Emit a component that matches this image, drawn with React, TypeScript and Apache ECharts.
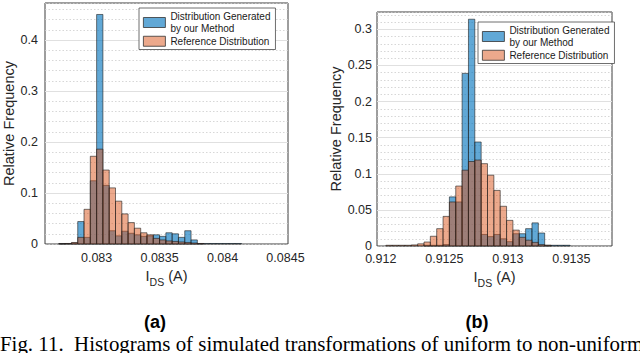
import React, { useEffect, useRef } from 'react';
import * as echarts from 'echarts';

// ---------- data ----------
const seriesNames = ['Distribution Generated by our Method', 'Reference Distribution'];
const legendTexts = ['Distribution Generated\nby our Method', 'Reference Distribution'];

// panel (a)
const binWidthA = 0.00005;
const firstEdgeA = 0.0827;
const generatedA = [0.001, 0.001, 0.002, 0.044, 0.013, 0.124, 0.45, 0.115, 0.026, 0.016, 0.025, 0.021, 0.018, 0.015, 0.016, 0.018, 0.015, 0.022, 0.020, 0.013, 0.026, 0.008, 0.001, 0.001, 0.001, 0.001, 0.001, 0.001, 0.001];
const referenceA = [0.0005, 0.001, 0.003, 0.013, 0.068, 0.172, 0.186, 0.145, 0.110, 0.084, 0.059, 0.042, 0.031, 0.022, 0.018, 0.011, 0.008, 0.006, 0.005, 0.004, 0.003, 0.002, 0.001, 0, 0, 0, 0, 0, 0];
const xTicksA = ['0.083', '0.0835', '0.084', '0.0845'];
const yTicksA = ['0', '0.1', '0.2', '0.3', '0.4'];

// panel (b)
const binWidthB = 0.00005;
const firstEdgeB = 0.91204;
const generatedB = [0, 0, 0, 0, 0, 0, 0.001, 0.001, 0.001, 0.002, 0.068, 0.061, 0.239, 0.314, 0.144, 0.016, 0.013, 0.016, 0.010, 0.006, 0.017, 0.017, 0.024, 0.032, 0.018, 0.001, 0.001, 0.001, 0.001];
const referenceB = [0.001, 0.001, 0.001, 0.001, 0.0015, 0.003, 0.0055, 0.0135, 0.024, 0.041, 0.061, 0.083, 0.105, 0.117, 0.119, 0.114, 0.098, 0.077, 0.055, 0.0355, 0.022, 0.012, 0.008, 0.005, 0.002, 0.001, 0, 0, 0];
const xTicksB = ['0.912', '0.9125', '0.913', '0.9135'];
const yTicksB = ['0', '0.05', '0.1', '0.15', '0.2', '0.25', '0.3'];

const yAxisTitle = 'Relative Frequency';
const panelLabels = ['(a)', '(b)'];
const caption = 'Fig. 11.  Histograms of simulated transformations of uniform to non-uniform';

// ---------- styling ----------
const fontFamily = "'Liberation Sans', Arial, Helvetica, sans-serif";
const textColor = '#262626';
const fills = ['rgba(0,114,189,0.62)', 'rgba(217,83,25,0.5)'];
const edgeColor = '#1f1f1f';

const panels = [
  {
    grid: { left: 45, top: 3, width: 243, height: 241 },
    xMin: 0.08259, xMax: 0.08452, yMax: 0.4725, yMinor: 0.02, xMinorStep: 0.0001,
    xTicks: xTicksA, yTicks: yTicksA, first: firstEdgeA, width: binWidthA,
    gen: generatedA, ref: referenceA,
    yLabelMargin: 7, xLabelMargin: 7, yNameGap: 24, xNameGap: 15,
    legend: { left: 139, top: 8 },
    label: { x: 155, y: 322 },
  },
  {
    grid: { left: 377, top: 12, width: 235, height: 234 },
    xMin: 0.91197, xMax: 0.91382, yMax: 0.324, yMinor: 0.01, xMinorStep: 0.0001,
    xTicks: xTicksB, yTicks: yTicksB, first: firstEdgeB, width: binWidthB,
    gen: generatedB, ref: referenceB,
    yLabelMargin: 5, xLabelMargin: 6, yNameGap: 32, xNameGap: 14,
    legend: { left: 478, top: 22 },
    label: { x: 477, y: 322 },
  },
];

function toBins(first: number, width: number, values: number[]) {
  return values.map((v, i) => [
    Number((first + i * width).toFixed(7)),
    Number((first + (i + 1) * width).toFixed(7)),
    v,
  ]);
}

function findLabel(labels: string[], v: number) {
  for (const l of labels) if (Math.abs(Number(l) - v) < 1e-9) return l;
  return '';
}

function buildOption() {
  const grid: any[] = [];
  const xAxis: any[] = [];
  const yAxis: any[] = [];
  const series: any[] = [];
  const legend: any[] = [];
  const graphic: any[] = [];

  panels.forEach((p, i) => {
    grid.push({ ...p.grid, show: true, borderColor: '#3c3c3c', borderWidth: 1, backgroundColor: '#ffffff' });

    xAxis.push({
      type: 'value', gridIndex: i, min: p.xMin, max: p.xMax,
      axisLine: { show: false },
      axisTick: { show: false },
      splitLine: { show: false },
      axisLabel: {
        customValues: p.xTicks.map(Number),
        formatter: (v: number) => findLabel(p.xTicks, v),
        margin: p.xLabelMargin, fontSize: 12.5, color: textColor, fontFamily,
      },
      name: '{i|I}{s|DS}{a| (A)}',
      nameLocation: 'middle', nameGap: p.xNameGap,
      nameTextStyle: {
        rich: {
          i: { fontSize: 14.5, color: textColor, fontFamily },
          s: { fontSize: 10.5, color: textColor, fontFamily, padding: [11, 0, 0, 0] },
          a: { fontSize: 14.5, color: textColor, fontFamily },
        },
      },
    });

    yAxis.push({
      type: 'value', gridIndex: i, min: 0, max: p.yMax, interval: p.yMinor,
      axisLine: { show: false },
      axisTick: { show: false },
      splitLine: { show: true, lineStyle: { color: '#cdcdcd', type: [1.5, 2], width: 0.8 } },
      axisLabel: {
        formatter: (v: number) => findLabel(p.yTicks, v),
        margin: p.yLabelMargin, fontSize: 12.5, color: textColor, fontFamily,
      },
      name: yAxisTitle, nameLocation: 'middle', nameRotate: 90, nameGap: p.yNameGap,
      nameTextStyle: { fontSize: 14.5, color: textColor, fontFamily },
    });

    // grid lines (x minor dotted, x/y major solid) drawn through the axes' scales
    const lines: any[] = [];
    const nStart = Math.ceil(p.xMin / p.xMinorStep - 1e-6);
    const nEnd = Math.floor(p.xMax / p.xMinorStep + 1e-6);
    const majorX = p.xTicks.map(Number);
    for (let n = nStart; n <= nEnd; n++) {
      const v = Number((n * p.xMinorStep).toFixed(7));
      const isMajor = majorX.some((m) => Math.abs(m - v) < 1e-9);
      if (!isMajor) lines.push({ xAxis: v, lineStyle: { color: '#cdcdcd', type: [1.5, 2], width: 0.8 } });
    }
    majorX.forEach((v) => lines.push({ xAxis: v, lineStyle: { color: '#e0e0e0', type: 'solid', width: 1 } }));
    p.yTicks.map(Number).filter((v) => v > 0).forEach((v) =>
      lines.push({ yAxis: v, lineStyle: { color: '#e0e0e0', type: 'solid', width: 1 } })
    );
    series.push({
      type: 'line', xAxisIndex: i, yAxisIndex: i, data: [], silent: true,
      markLine: {
        silent: true, symbol: ['none', 'none'], label: { show: false }, z: 1,
        animation: false, emphasis: { disabled: true }, data: lines,
      },
    });

    [p.gen, p.ref].forEach((vals, j) => {
      series.push({
        type: 'custom', name: seriesNames[j], xAxisIndex: i, yAxisIndex: i, z: 2 + j,
        color: fills[j],
        encode: { x: [0, 1], y: 2 },
        data: toBins(p.first, p.width, vals),
        renderItem: (params: any, api: any) => {
          const v = api.value(2);
          if (!v) return null;
          const p0 = api.coord([api.value(0), v]);
          const p1 = api.coord([api.value(1), 0]);
          return {
            type: 'rect',
            shape: { x: p0[0], y: p0[1], width: p1[0] - p0[0], height: p1[1] - p0[1] },
            style: { fill: fills[j], stroke: edgeColor, lineWidth: 0.6 },
          };
        },
      });
    });

    legend.push({
      orient: 'vertical', left: p.legend.left, top: p.legend.top,
      itemWidth: 22, itemHeight: 10, itemGap: 0,
      padding: [2, 5, 2, 4], backgroundColor: '#ffffff', borderColor: '#4a4a4a', borderWidth: 0.8,
      icon: 'rect', selectedMode: false,
      textStyle: { fontSize: 10, lineHeight: 12.5, color: '#1a1a1a', fontFamily },
      formatter: (name: string) => legendTexts[seriesNames.indexOf(name)],
      data: seriesNames.map((n, j) => ({
        name: n, itemStyle: { color: fills[j], borderColor: '#333333', borderWidth: 0.8 },
      })),
    });

    graphic.push({
      type: 'text', x: p.label.x, y: p.label.y,
      style: {
        text: panelLabels[i], fontSize: 18, fontWeight: 'bold', fontFamily, fill: '#000',
        align: 'center', verticalAlign: 'middle', textAlign: 'center', textVerticalAlign: 'middle',
      },
    });
  });

  graphic.push({
    type: 'text', x: 0, y: 344,
    style: {
      text: caption, fontSize: 20.9, fontFamily: "'Liberation Serif', 'Times New Roman', serif", fill: '#000',
      align: 'left', verticalAlign: 'middle', textAlign: 'left', textVerticalAlign: 'middle',
    },
  });

  return { animation: false, backgroundColor: '#ffffff', grid, xAxis, yAxis, series, legend, graphic };
}

export default function App() {
  const ref = useRef<HTMLDivElement>(null);
  useEffect(() => {
    const chart = echarts.init(ref.current as HTMLDivElement, null, { renderer: 'svg' });
    chart.setOption(buildOption() as any);
    return () => chart.dispose();
  }, []);
  return (
    <div
      ref={ref}
      style={{ position: 'absolute', left: 0, top: 0, width: 640, height: 353, background: '#fff' }}
    />
  );
}
